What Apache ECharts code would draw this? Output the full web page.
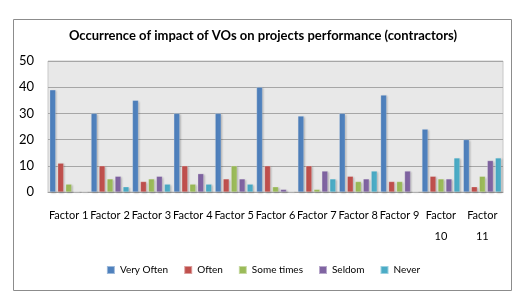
<!DOCTYPE html>
<html>
<head>
<meta charset="utf-8">
<script src="https://cdn.jsdelivr.net/npm/echarts@6/dist/echarts.min.js"></script>
<style>
  html, body { margin: 0; padding: 0; background: #fff; }
  #chart { width: 526px; height: 304px; }
</style>
</head>
<body>
<div id="chart"></div>
<script>
  // 数据
  var factors = ['Factor 1', 'Factor 2', 'Factor 3', 'Factor 4', 'Factor 5', 'Factor 6',
    'Factor 7', 'Factor 8', 'Factor 9', 'Factor 10', 'Factor 11'];
  var veryOften = [39, 30, 35, 30, 30, 40, 29, 30, 37, 24, 20];
  var often = [11, 10, 4, 10, 5, 10, 10, 6, 4, 6, 2];
  var someTimes = [3, 5, 5, 3, 10, 2, 1, 4, 4, 5, 6];
  var seldom = [0, 6, 6, 7, 5, 1, 8, 5, 8, 5, 12];
  var never = [0, 2, 3, 3, 3, 0, 5, 8, 0, 13, 13];
  var yTicks = [0, 10, 20, 30, 40, 50];

  var font = "Lato, 'Liberation Sans', Arial, sans-serif";
  var colors = ['#4F81BD', '#C0504D', '#9BBB59', '#8064A2', '#4BACC6'];

  function barSeries(name, data) {
    return {
      name: name,
      type: 'bar',
      barWidth: 6,
      barGap: '33%',
      itemStyle: {
        borderColor: 'rgba(255,255,255,0.45)',
        borderWidth: 0.5,
        shadowBlur: 2,
        shadowOffsetX: 1,
        shadowOffsetY: 1,
        shadowColor: 'rgba(0,0,0,0.25)'
      },
      data: data
    };
  }

  var chart = echarts.init(document.getElementById('chart'));
  chart.setOption({
    animation: false,
    color: colors,
    textStyle: { fontFamily: font },
    title: {
      text: 'Occurrence of impact of VOs on projects performance (contractors)',
      left: 'center',
      top: 24,
      textStyle: { fontFamily: font, fontSize: 13, fontWeight: 'bold', color: '#000' }
    },
    legend: {
      bottom: 24,
      left: 'center',
      itemWidth: 8,
      itemHeight: 8,
      itemGap: 15,
      itemTextGap: 4,
      icon: 'rect',
      textStyle: { fontFamily: font, fontSize: 10, color: '#000' },
      data: ['Very Often', 'Often', 'Some times', 'Seldom', 'Never']
    },
    grid: {
      left: 48,
      right: 23,
      top: 61,
      bottom: 112,
      show: true,
      backgroundColor: '#E8E8E8',
      borderColor: '#C8C8C8',
      borderWidth: 1
    },
    xAxis: {
      type: 'category',
      data: factors,
      axisTick: { show: false },
      axisLine: { lineStyle: { color: '#A0A0A0' } },
      axisLabel: {
        color: '#000',
        fontFamily: font,
        fontSize: 11,
        margin: 13,
        interval: 0,
        lineHeight: 21,
        formatter: function (v) {
          return v.length > 8 ? v.replace(' ', '\n') : v;
        }
      }
    },
    yAxis: {
      type: 'value',
      min: yTicks[0],
      max: yTicks[yTicks.length - 1],
      interval: 10,
      axisLine: { show: false },
      axisTick: { show: false },
      axisLabel: { color: '#000', fontFamily: font, fontSize: 13, margin: 14 },
      splitLine: { lineStyle: { color: '#A6A6A6' } }
    },
    graphic: [{
      type: 'rect',
      shape: { x: 13.5, y: 19.5, width: 498, height: 271 },
      style: { fill: 'none', stroke: '#8C8C8C', lineWidth: 1 },
      silent: true
    }],
    series: [
      barSeries('Very Often', veryOften),
      barSeries('Often', often),
      barSeries('Some times', someTimes),
      barSeries('Seldom', seldom),
      barSeries('Never', never)
    ]
  });
</script>
</body>
</html>
